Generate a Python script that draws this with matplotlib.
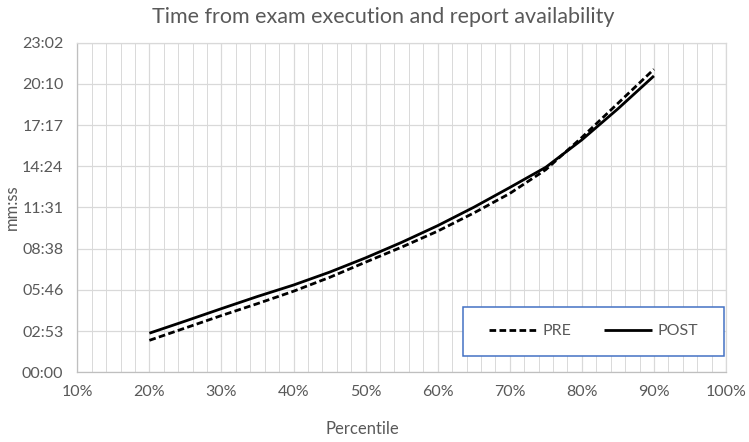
import matplotlib
matplotlib.use("Agg")
import matplotlib.pyplot as plt
import matplotlib.ticker as mticker
from matplotlib.patches import Rectangle

plt.rcParams["font.family"] = ["Lato", "DejaVu Sans"]

# Percentile (x) and time in seconds (y)
percentiles = [20, 25, 30, 35, 40, 45, 50, 55, 60, 65, 70, 75, 80, 85, 90]
pre_secs = [134, 186, 238, 288, 340, 398, 462, 525, 592, 668, 750, 850, 985, 1128, 1271]
post_secs = [164, 215, 267, 318, 366, 420, 480, 545, 615, 692, 775, 860, 975, 1105, 1243]

# Excel time axis: major unit 0.002 days
Y_STEP = 0.002 * 86400  # 172.8 s
Y_MAX = 8 * Y_STEP

GRID = "#d9d9d9"
TEXT = "#595959"


def mmss(v, pos=None):
    s = int(round(v))
    return f"{s // 60:02d}:{s % 60:02d}"


fig = plt.figure(figsize=(7.49, 4.42), dpi=100)
ax = fig.add_axes([0.1032, 0.1577, 0.8661, 0.7457])

ax.plot(percentiles, pre_secs, color="black", linewidth=2.0,
        dashes=(2.4, 1.2), label="PRE")
ax.plot(percentiles, post_secs, color="black", linewidth=2.0,
        solid_capstyle="butt", label="POST")

ax.set_xlim(10, 100)
ax.set_ylim(0, Y_MAX)
ax.xaxis.set_major_locator(mticker.MultipleLocator(10))
ax.xaxis.set_minor_locator(mticker.MultipleLocator(2))
ax.xaxis.set_major_formatter(mticker.FuncFormatter(lambda v, p: f"{v:.0f}%"))
ax.yaxis.set_major_locator(mticker.MultipleLocator(Y_STEP))
ax.yaxis.set_major_formatter(mticker.FuncFormatter(mmss))

ax.grid(which="major", color=GRID, linewidth=0.9)
ax.grid(which="minor", axis="x", color=GRID, linewidth=0.7)
ax.set_axisbelow(True)
ax.tick_params(which="both", length=0, labelsize=11.5, labelcolor=TEXT)
ax.tick_params(axis="x", pad=9)
ax.tick_params(axis="y", pad=10)

for side in ["top", "right"]:
    ax.spines[side].set_color(GRID)
    ax.spines[side].set_linewidth(0.9)
for side in ["left", "bottom"]:
    ax.spines[side].set_color("#bfbfbf")
    ax.spines[side].set_linewidth(0.9)

fig.text(0.512, 0.962, "Time from exam execution and report availability",
         ha="center", va="center", fontsize=15.5, color=TEXT)
fig.text(0.484, 0.030, "Percentile", ha="center", va="center",
         fontsize=12, color=TEXT)
fig.text(0.016, 0.532, "mm:ss", ha="center", va="center", rotation=90,
         fontsize=12, color=TEXT)

# legend box
box = Rectangle((0.595, 0.050), 0.402, 0.149, transform=ax.transAxes,
                facecolor="white", edgecolor="#4472c4", linewidth=1.1,
                zorder=5)
ax.add_patch(box)
leg = ax.legend(loc="center", bbox_to_anchor=(0.796, 0.1245), ncol=2,
                frameon=False, fontsize=11.5, handlelength=3.0,
                handletextpad=0.35, columnspacing=2.0)
leg.set_zorder(6)
for t in leg.get_texts():
    t.set_color(TEXT)

fig.savefig("out.png", dpi=100)
